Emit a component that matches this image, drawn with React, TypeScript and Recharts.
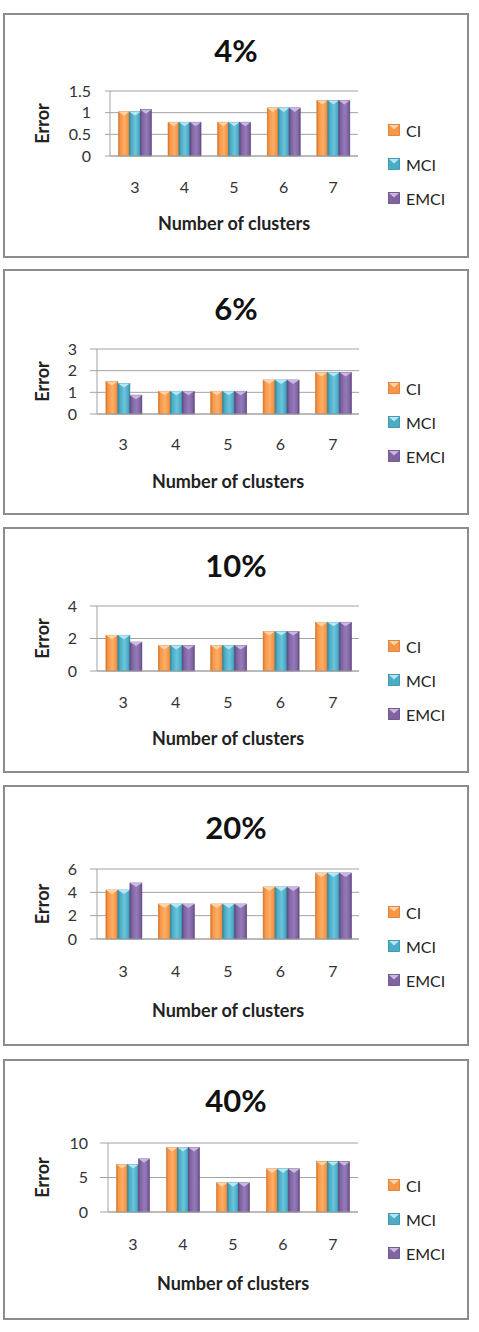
import { Bar, BarChart, CartesianGrid, Legend, XAxis, YAxis } from "recharts";

const clusters = ["3", "4", "5", "6", "7"];
const seriesNames = ["CI", "MCI", "EMCI"];
const panelTitles = ["4%", "6%", "10%", "20%", "40%"];

// errors
const ci4 = [1.02, 0.78, 0.78, 1.11, 1.28];
const mci4 = [1.02, 0.78, 0.78, 1.11, 1.28];
const emci4 = [1.07, 0.78, 0.78, 1.11, 1.28];

const ci6 = [1.5, 1.05, 1.05, 1.57, 1.92];
const mci6 = [1.41, 1.05, 1.05, 1.57, 1.92];
const emci6 = [0.87, 1.05, 1.05, 1.57, 1.92];

const ci10 = [2.2, 1.57, 1.57, 2.43, 3.0];
const mci10 = [2.2, 1.57, 1.57, 2.43, 3.0];
const emci10 = [1.78, 1.57, 1.57, 2.43, 3.0];

const ci20 = [4.2, 3.0, 3.0, 4.46, 5.66];
const mci20 = [4.2, 3.0, 3.0, 4.46, 5.66];
const emci20 = [4.8, 3.0, 3.0, 4.46, 5.66];

const ci40 = [6.88, 9.33, 4.23, 6.25, 7.3];
const mci40 = [6.88, 9.33, 4.23, 6.25, 7.3];
const emci40 = [7.7, 9.33, 4.23, 6.25, 7.3];

const yTicks4 = [0, 0.5, 1, 1.5];
const yTicks6 = [0, 1, 2, 3];
const yTicks10 = [0, 2, 4];
const yTicks20 = [0, 2, 4, 6];
const yTicks40 = [0, 5, 10];

const COLORS: Record<string, { base: string; light: string; dark: string; top: string }> = {
  CI: { base: "#F79646", light: "#FBAE68", dark: "#D6762C", top: "#FDD3A8" },
  MCI: { base: "#4BACC6", light: "#6CC4DA", dark: "#2E8AA3", top: "#B5E6F2" },
  EMCI: { base: "#8064A2", light: "#957ABA", dark: "#5F4880", top: "#C9B8E0" },
};

const panels = [
  { title: panelTitles[0], ci: ci4, mci: mci4, emci: emci4, ticks: yTicks4 },
  { title: panelTitles[1], ci: ci6, mci: mci6, emci: emci6, ticks: yTicks6 },
  { title: panelTitles[2], ci: ci10, mci: mci10, emci: emci10, ticks: yTicks10 },
  { title: panelTitles[3], ci: ci20, mci: mci20, emci: emci20, ticks: yTicks20 },
  { title: panelTitles[4], ci: ci40, mci: mci40, emci: emci40, ticks: yTicks40 },
];

// box placement of each panel (px, relative to the panel's inner box)
const layouts = [
  { top: 13, height: 245, plotLeft: 105, plotRight: 353, plotTop: 76, plotBottom: 141, titleY: 35, legendY: 115, xTickMargin: 26, xLabelY: 208, tickSize: 5, tickMargin: 14 },
  { top: 269, height: 246, plotLeft: 92, plotRight: 354, plotTop: 78, plotBottom: 143, titleY: 37, legendY: 117, xTickMargin: 25, xLabelY: 210, tickSize: 7, tickMargin: 13 },
  { top: 527, height: 246, plotLeft: 92, plotRight: 354, plotTop: 77, plotBottom: 142, titleY: 36, legendY: 117, xTickMargin: 26, xLabelY: 209, tickSize: 7, tickMargin: 13 },
  { top: 785, height: 261, plotLeft: 92, plotRight: 354, plotTop: 82, plotBottom: 152, titleY: 40, legendY: 125, xTickMargin: 27, xLabelY: 223, tickSize: 7, tickMargin: 13 },
  { top: 1059, height: 261, plotLeft: 103, plotRight: 353, plotTop: 82, plotBottom: 151, titleY: 39, legendY: 124, xTickMargin: 27, xLabelY: 222, tickSize: 8, tickMargin: 12 },
];

const PANEL_W = 462;
const FONT = "Lato, 'Open Sans', sans-serif";

function BevelBar(props: any) {
  const { x, y, width, height, series, gid } = props;
  if (!height || height <= 0) return null;
  const c = COLORS[series];
  const tri = Math.min(4, height);
  return (
    <g>
      <rect x={x} y={y} width={width} height={height} fill={`url(#${gid}-${series})`} stroke={c.dark} strokeWidth={0.6} />
      <polygon points={`${x},${y} ${x + width},${y} ${x + width / 2},${y + tri}`} fill={c.top} />
    </g>
  );
}

function LegendIcon({ series }: { series: string }) {
  const c = COLORS[series];
  return (
    <svg width={12} height={12} style={{ display: "block" }}>
      <rect x={0.5} y={0.5} width={11} height={11} fill={c.base} stroke={c.dark} strokeWidth={0.8} />
      <polygon points="1,1 11,1 6,5.5" fill={c.top} />
    </svg>
  );
}

function PanelLegend() {
  return (
    <div>
      {seriesNames.map((s) => (
        <div key={s} style={{ display: "flex", alignItems: "center", height: 34 }}>
          <LegendIcon series={s} />
          <span style={{ marginLeft: 6, fontSize: 16, color: "#222", fontFamily: FONT }}>{s}</span>
        </div>
      ))}
    </div>
  );
}

function ErrorPanel({ idx }: { idx: number }) {
  const p = panels[idx];
  const l = layouts[idx];
  const innerH = l.height - 4;
  const gid = `bev${idx}`;
  const data = clusters.map((c, i) => ({ cluster: c, CI: p.ci[i], MCI: p.mci[i], EMCI: p.emci[i] }));
  const domainMax = p.ticks[p.ticks.length - 1];

  return (
    <div
      style={{
        position: "absolute",
        left: 3,
        top: l.top,
        width: PANEL_W,
        height: innerH,
        border: "2px solid #8c8c8c",
        background: "#fff",
        fontFamily: FONT,
      }}
    >
      <div
        style={{
          position: "absolute",
          left: 0,
          width: PANEL_W,
          top: l.titleY - 18,
          lineHeight: "36px",
          textAlign: "center",
          fontSize: 31,
          fontWeight: 700,
          color: "#111",
        }}
      >
        {p.title}
      </div>
      <BarChart
        width={PANEL_W}
        height={innerH}
        data={data}
        margin={{ top: l.plotTop, right: PANEL_W - l.plotRight, bottom: 0, left: 0 }}
        barGap={0}
        barCategoryGap="17%"
      >
        <defs>
          {seriesNames.map((s) => (
            <linearGradient key={s} id={`${gid}-${s}`} x1="0" y1="0" x2="1" y2="0">
              <stop offset="0%" stopColor={COLORS[s].dark} />
              <stop offset="18%" stopColor={COLORS[s].base} />
              <stop offset="55%" stopColor={COLORS[s].light} />
              <stop offset="85%" stopColor={COLORS[s].base} />
              <stop offset="100%" stopColor={COLORS[s].dark} />
            </linearGradient>
          ))}
        </defs>
        <CartesianGrid vertical={false} stroke="#a3a3a3" />
        <XAxis
          dataKey="cluster"
          height={innerH - l.plotBottom}
          tickLine={false}
          tickSize={0}
          tickMargin={l.xTickMargin}
          axisLine={{ stroke: "#a3a3a3" }}
          tick={{ fontSize: 16, fill: "#333" }}
          label={{
            value: "Number of clusters",
            content: (lp: any) => {
              const vb = lp.viewBox;
              return (
                <text x={vb.x + vb.width / 2} y={l.xLabelY} textAnchor="middle" dominantBaseline="central" fontSize={18} fontWeight={700} fill="#222">
                  Number of clusters
                </text>
              );
            },
          }}
        />
        <YAxis
          width={l.plotLeft}
          domain={[0, domainMax]}
          ticks={p.ticks}
          interval={0}
          tickSize={l.tickSize}
          tickMargin={l.tickMargin}
          axisLine={{ stroke: "#a3a3a3" }}
          tickLine={{ stroke: "#a3a3a3" }}
          tick={{ fontSize: 16, fill: "#333" }}
          label={{
            value: "Error",
            content: (lp: any) => {
              const vb = lp.viewBox;
              const cy = vb.y + vb.height / 2;
              return (
                <text x={37} y={cy} transform={`rotate(-90 37 ${cy})`} textAnchor="middle" dominantBaseline="central" fontSize={18} fontWeight={700} fill="#222">
                  Error
                </text>
              );
            },
          }}
        />
        <Legend
          layout="vertical"
          align="center"
          verticalAlign="middle"
          content={() => <PanelLegend />}
          wrapperStyle={{ left: 383, top: l.legendY - 17, width: 80 }}
        />
        {seriesNames.map((s) => (
          <Bar
            key={s}
            dataKey={s}
            fill={COLORS[s].base}
            isAnimationActive={false}
            shape={(bp: any) => <BevelBar {...bp} series={s} gid={gid} />}
          />
        ))}
      </BarChart>
    </div>
  );
}

export default function App() {
  return (
    <div style={{ position: "absolute", left: 0, top: 0, width: 479, height: 1332, background: "#fff" }}>
      {panels.map((_, i) => (
        <ErrorPanel key={i} idx={i} />
      ))}
    </div>
  );
}
